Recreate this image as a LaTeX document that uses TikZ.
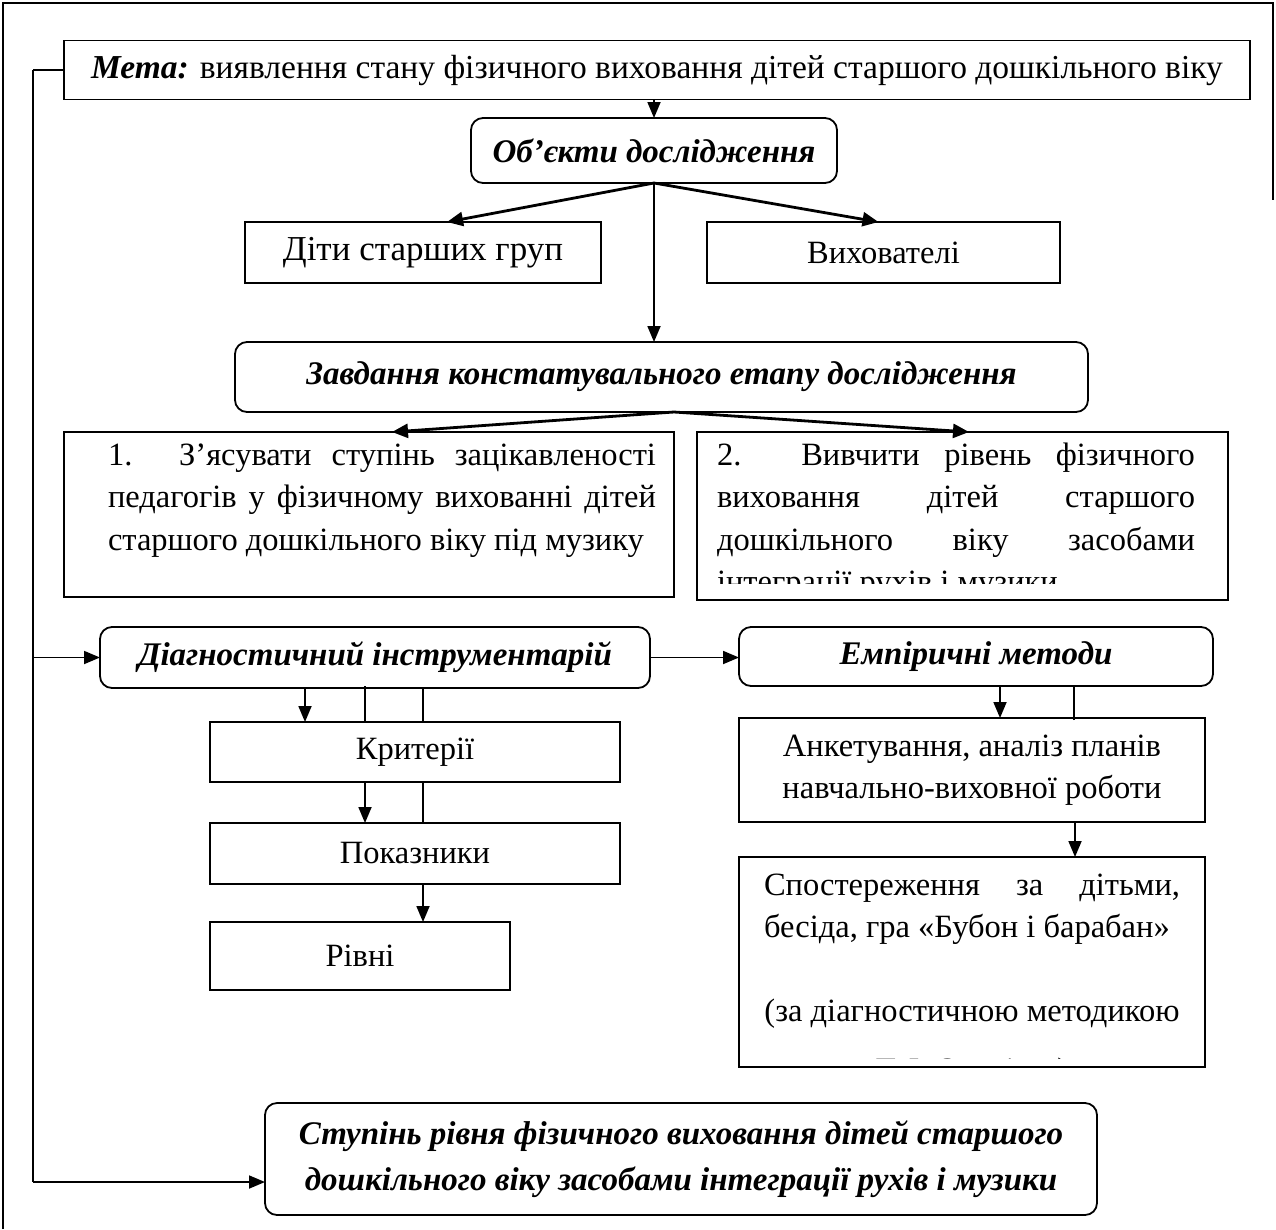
\documentclass[tikz,border=0pt]{standalone}
\usepackage{fontspec}
\setmainfont{Liberation Serif}
\usetikzlibrary{arrows.meta}
\begin{document}
\begin{tikzpicture}[x=1pt,y=-1pt,
  font=\fontsize{32.5}{42.5}\selectfont,
  box/.style={draw, line width=1.8pt, inner sep=0pt, outer sep=0pt},
  rbox/.style={box, rounded corners=12pt},
  ttl/.style={font=\fontsize{33}{46}\selectfont\bfseries\itshape},
  txt/.style={inner sep=0pt, outer sep=0pt},
  link/.style={line width=1.8pt, -{Triangle[length=16pt,width=13pt]}},
  heavy/.style={line width=2.8pt, -{Triangle[length=16pt,width=14pt]}},
  plain/.style={line width=1.8pt},
  frame/.style={line width=2.2pt}
]
\useasboundingbox (0,0) rectangle (1276,1229);
% outer frame
\coordinate (fTL) at (3,3);
\coordinate (fTR) at (1273,3);
\coordinate (fBL) at (3,1229);
\coordinate (fRB) at (1273,200);
\draw[frame] (fBL) -- (fTL) -- (fTR) -- (fRB);

% boxes
\node[box, minimum width=1186pt, minimum height=59pt, font=\fontsize{33.5}{42.5}\selectfont] (mete) at (657,70)
  {{\bfseries\itshape Мета:} виявлення стану фізичного виховання дітей старшого дошкільного віку};
\node[rbox, ttl, minimum width=366pt, minimum height=65pt] (obj) at (654,150.5) {Об’єкти дослідження};
\node[box, minimum width=356pt, minimum height=61pt, font=\fontsize{35}{42.5}\selectfont] (kids) at (423,252.5) {Діти старших груп};
\node[box, minimum width=353pt, minimum height=61pt] (tutors) at (883.5,252.5) {Вихователі};
\node[rbox, ttl, minimum width=853pt, minimum height=70pt] (tasks) at (661.5,377) {Завдання констатувального етапу дослідження};
\node[box, minimum width=610pt, minimum height=165pt] (t1) at (369,514.5) {};
\node[box, minimum width=531pt, minimum height=168pt] (t2) at (962.5,516) {};
\node[rbox, ttl, minimum width=550pt, minimum height=61pt] (diag) at (375,657.5) {Діагностичний інструментарій};
\node[rbox, ttl, minimum width=474pt, minimum height=59pt] (emp) at (976,656.5) {Емпіричні методи};
\node[box, minimum width=410pt, minimum height=60pt] (crit) at (415,752) {Критерії};
\node[box, minimum width=410pt, minimum height=61pt] (ind) at (415,853.5) {Показники};
\node[box, minimum width=300pt, minimum height=68pt] (lev) at (360,956) {Рівні};
\node[box, minimum width=466pt, minimum height=104pt, align=center] (survey) at (972,770)
  {Анкетування, аналіз планів\\навчально-виховної роботи};
\node[box, minimum width=466pt, minimum height=210pt] (obs) at (972,962) {};
\node[rbox, ttl, minimum width=832pt, minimum height=112pt, align=center] (res) at (681,1159)
  {Ступінь рівня фізичного виховання дітей старшого\\дошкільного віку засобами інтеграції рухів і музики};

% texts inside the task boxes
\node[txt, anchor=base west, text width=548pt, align=justify] (t1text) at (108,465)
  {1. З’ясувати ступінь зацікавленості\linebreak педагогів у фізичному вихованні дітей\linebreak старшого дошкільного віку під музику};
\begin{scope}
  \clip ([xshift=2pt]t2.north west) rectangle ([xshift=-2pt,yshift=17pt]t2.south east);
  \node[txt, anchor=base west, text width=478pt, align=justify] (t2text) at (717,465)
    {2. Вивчити рівень фізичного\linebreak виховання дітей старшого\linebreak дошкільного віку засобами\linebreak інтеграції рухів і музики};
\end{scope}
\node[txt, anchor=base west, text width=416pt, align=justify] (obstext) at (764,895)
  {Спостереження за дітьми,\linebreak бесіда, гра «Бубон і барабан»};
\node[txt, anchor=base] (obsnote) at (972,1021) {(за діагностичною методикою};
\begin{scope}
  \clip ([xshift=2pt]obs.north west) rectangle ([xshift=-2pt,yshift=9pt]obs.south east);
  \node[txt, anchor=base] (obsauthor) at (972,1080) {Т. І. Осокіної)};
\end{scope}

% connectors
\draw[link] (obj.north |- mete.south) -- (obj.north);
\draw[heavy] (obj.south) -- ([xshift=24pt]kids.north);
\draw[heavy] (obj.south) -- ([xshift=-5pt]tutors.north);
\draw[link] (obj.south) -- (obj.south |- tasks.north);
\draw[heavy] ([xshift=12.5pt]tasks.south) -- ([xshift=23pt]t1.north);
\draw[heavy] ([xshift=12.5pt]tasks.south) -- ([xshift=6.5pt]t2.north);

% feedback line on the left
\draw[plain] (mete.west) -- ++(-31,0) coordinate (fbtop);
\coordinate (fbbot) at (fbtop |- 0,1182);
\draw[plain] (fbtop) -- (fbbot);
\draw[link] (fbbot) -- (fbbot -| res.west);
\draw[link] (fbtop |- diag.west) -- (diag.west);
\draw[link] (diag.east) -- (diag.east -| emp.west);

% diagnostic branch
\draw[link] ([xshift=95pt]crit.north west |- diag.south) -- ([xshift=95pt]crit.north west);
\draw[plain] ([xshift=155pt]crit.north west) -- ++(0,-36);
\draw[plain] ([xshift=213pt]crit.north west |- diag.south) -- ([xshift=213pt]crit.north west);
\draw[link] ([xshift=155pt]crit.south west) -- ([xshift=155pt]ind.north west);
\draw[plain] ([xshift=213pt]crit.south west) -- ([xshift=213pt]ind.north west);
\draw[link] ([xshift=213pt]ind.south west) -- ([xshift=213pt]lev.north west);

% empirical branch
\draw[link] ([xshift=261pt]survey.north west |- emp.south) -- ([xshift=261pt]survey.north west);
\draw[plain] ([xshift=335pt]survey.north west) ++(0,2) -- ++(0,-33);
\draw[link] ([xshift=336pt]survey.south west) -- ([xshift=336pt]obs.north west);
\end{tikzpicture}
\end{document}
